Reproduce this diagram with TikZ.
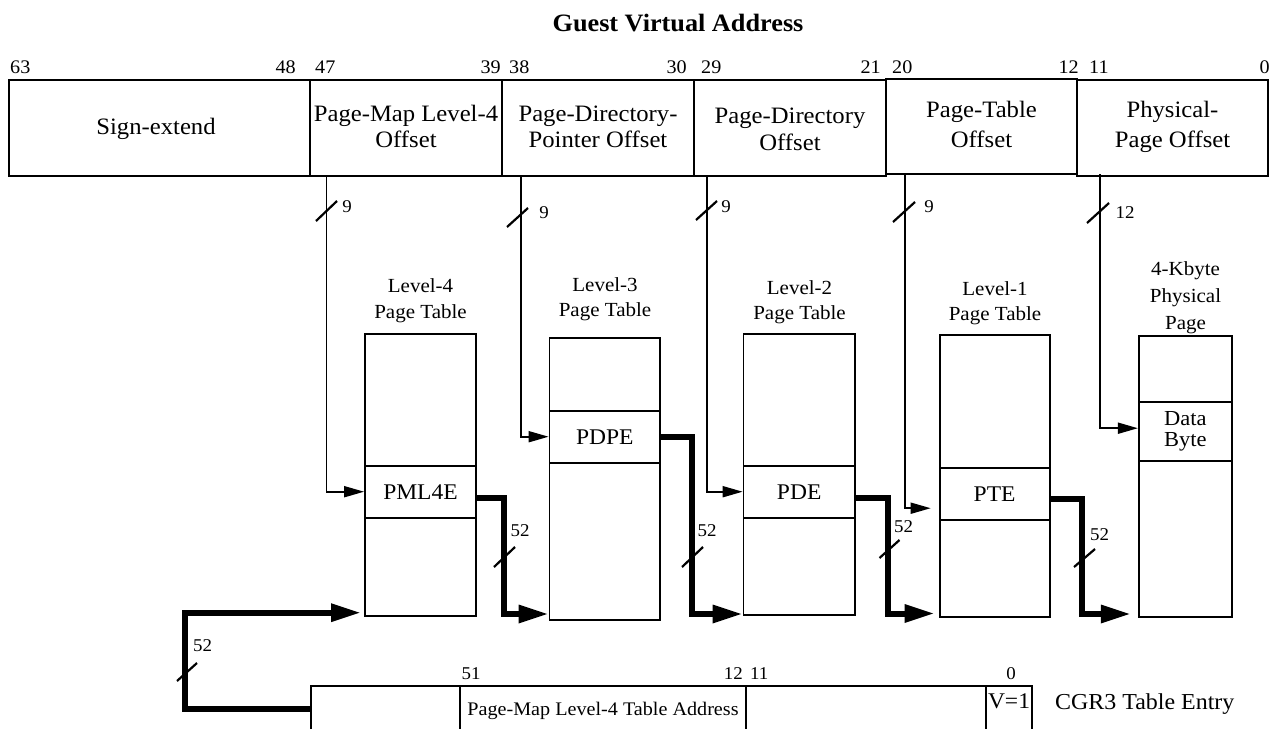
\documentclass[tikz,border=0pt]{standalone}
\usepackage{fontspec}
\setmainfont{Liberation Serif}[FakeStretch=1.05]
\usetikzlibrary{arrows.meta,calc}
\newcommand\fsTitle{\fontsize{25}{28}\selectfont\bfseries}
\newcommand\fsMain{\fontsize{23.5}{26}\selectfont}
\newcommand\fsBit{\fontsize{19.2}{22}\selectfont}
\newcommand\fsEnt{\fontsize{22.4}{21}\selectfont}
\newcommand\fsTtl{\fontsize{20}{25.5}\selectfont}
\newcommand\fsW{\fontsize{18}{20}\selectfont}
\newcommand\fsAddr{\fontsize{19.2}{22}\selectfont}
\begin{document}
\begin{tikzpicture}[x=1pt,y=-1pt,line join=miter,
  field/.style={draw,line width=1.8pt,inner sep=0pt},
  ftext/.style={font=\fsMain,align=center,inner sep=0pt,anchor=base},
  bitno/.style={font=\fsBit,inner sep=0pt},
  tbl/.style={draw,line width=1.8pt,inner sep=0pt},
  ent/.style={draw,line width=1.8pt,inner sep=0pt,font=\fsEnt,align=center},
  ttl/.style={font=\fsTtl,align=center,inner sep=0pt,anchor=base},
  idx/.style={line width=1.8pt,-{Triangle[length=20pt,width=11pt]}},
  ptr/.style={line width=6pt,-{Triangle[length=30pt,width=17pt]}},
  tick/.style={line width=2.2pt},
  wlab/.style={font=\fsW,inner sep=0pt}]
\useasboundingbox (0,0) rectangle (1271,729);

% title
\node[font=\fsTitle,inner sep=0pt,anchor=base] (title) at (678,31) {Guest Virtual Address};

% bit numbers
\node[bitno,anchor=base west] (b63) at (10,73) {63};
\node[bitno,anchor=base east] (b48) at (296,73) {48};
\node[bitno,anchor=base west] (b47) at (315,73) {47};
\node[bitno,anchor=base east] (b39) at (501,73) {39};
\node[bitno,anchor=base west] (b38) at (509,73) {38};
\node[bitno,anchor=base east] (b30) at (687,73) {30};
\node[bitno,anchor=base west] (b29) at (701,73) {29};
\node[bitno,anchor=base east] (b21) at (881,73) {21};
\node[bitno,anchor=base west] (b20) at (892,73) {20};
\node[bitno,anchor=base east] (b12) at (1079,73) {12};
\node[bitno,anchor=base west] (b11) at (1089,73) {11};
\node[bitno,anchor=base east] (b0) at (1270,73) {0};

% register fields
\node[field,minimum width=301pt,minimum height=96pt] (se) at (159.5,128) {};
\node[field,minimum width=192pt,minimum height=96pt] (pml4) at (406,128) {};
\node[field,minimum width=192pt,minimum height=96pt] (pdp) at (598,128) {};
\node[field,minimum width=192pt,minimum height=96pt] (pd) at (790,128) {};
\node[field,minimum width=191pt,minimum height=95pt] (pt) at (981.5,126.5) {};
\node[field,minimum width=191pt,minimum height=96pt] (ppo) at (1172.5,128) {};

\node[ftext] (tse) at (156,134) {Sign-extend};
\node[ftext,font=\fontsize{23.5}{26}\selectfont] (tpml4) at (406,147) {Page-Map Level-4\\Offset};
\node[ftext,font=\fontsize{23.5}{26}\selectfont] (tpdp) at (598,147) {Page-Directory-\\Pointer Offset};
\node[ftext,font=\fontsize{23.5}{27}\selectfont] (tpd) at (790,150) {Page-Directory\\Offset};
\node[ftext,font=\fontsize{23.5}{30}\selectfont] (tpt) at (981.5,147) {Page-Table\\Offset};
\node[ftext,font=\fontsize{23.5}{30}\selectfont] (tppo) at (1172.5,147) {Physical-\\Page Offset};

% tables
\node[ttl] (l4t) at (420.5,318) {Level-4\\Page Table};
\node[ttl] (l3t) at (605,316.5) {Level-3\\Page Table};
\node[ttl] (l2t) at (799.5,319.5) {Level-2\\Page Table};
\node[ttl] (l1t) at (995,320.5) {Level-1\\Page Table};
\node[ttl,font=\fontsize{20}{27}\selectfont] (ppt) at (1185.5,329) {4-Kbyte\\Physical\\Page};

\node[tbl,minimum width=111pt,minimum height=282pt] (t4) at (420.5,475) {};
\node[tbl,minimum width=110.5pt,minimum height=282pt] (t3) at (604.75,479) {};
\node[tbl,minimum width=111.3pt,minimum height=280.7pt] (t2) at (799.2,474.4) {};
\node[tbl,minimum width=110pt,minimum height=282pt] (t1) at (994.6,475.7) {};
\node[tbl,minimum width=92.9pt,minimum height=281.6pt] (tp) at (1185.25,476.5) {};

\node[ent,minimum width=111pt,minimum height=52pt] (pml4e) at (420.5,491.7) {PML4E};
\node[ent,minimum width=110.5pt,minimum height=52pt] (pdpe) at (604.75,436.7) {PDPE};
\node[ent,minimum width=111.3pt,minimum height=52pt] (pde) at (799.2,491.7) {PDE};
\node[ent,minimum width=110pt,minimum height=51.7pt] (pte) at (994.6,494.2) {PTE};
\node[ent,minimum width=92.9pt,minimum height=59pt,font=\fontsize{21.4}{21}\selectfont] (data) at (1185.25,431.2) {Data\\Byte};

% index connectors
\draw[idx] (326.5,0 |- pml4.south) |- (pml4e.west);
\draw[idx] (521,0 |- pdp.south) |- (pdpe.west);
\draw[idx] (707,0 |- pd.south) |- (pde.west);
\draw[idx] (905,0 |- pt.south) |- ($(pte.west)+(-8,14)$);
\draw[idx] (1100,174) |- ($(data.west)+(0,-3)$);

% 9/12 bit marks
\draw[tick] (316,221) -- (337,201);
\draw[tick] (507,227) -- (528,208);
\draw[tick] (696,220) -- (717,201);
\draw[tick] (893,222) -- (915,202);
\draw[tick] (1087,223) -- (1109,203);
\node[wlab] (w1) at (347,207) {9};
\node[wlab] (w2) at (544,213) {9};
\node[wlab] (w3) at (726,207) {9};
\node[wlab] (w4) at (929,207) {9};
\node[wlab] (w5) at (1125,213) {12};

% pointer connectors
\coordinate (k1) at (504,614);
\coordinate (k2) at (692,614);
\coordinate (k3) at (887.5,613.5);
\coordinate (k4) at (1082,614);
\coordinate (k5) at (185,612.7);
\coordinate (cgr) at (310.7,708.7);
\draw[ptr] ($(pml4e.east)+(0,6)$) -| (k1) -- (k1 -| t3.west);
\draw[ptr] (pdpe.east) -| (k2) -- (k2 -| t2.west);
\draw[ptr] ($(pde.east)+(0,6.5)$) -| (k3) -- ($(k3 -| t1.west)+(-4,0)$);
\draw[ptr] ($(pte.east)+(0,5)$) -| (k4) -- ($(k4 -| tp.west)+(-7,0)$);
\draw[ptr] (cgr) -| (k5) -- ($(k5 -| t4.west)+(-3,0)$);

\draw[tick] (494,567) -- (515,547);
\draw[tick] (682,567) -- (703,547);
\draw[tick] (879.5,558) -- (899.5,540);
\draw[tick] (1074,567) -- (1095,549);
\draw[tick] (177,681) -- (197,663);
\node[wlab] (p1) at (520,531) {52};
\node[wlab] (p2) at (707,531) {52};
\node[wlab] (p3) at (903.5,527) {52};
\node[wlab] (p4) at (1099.5,535) {52};
\node[wlab] (p5) at (202.5,646) {52};

% CGR3 entry
\draw[line width=1.8pt] (310.7,729) -- (310.7,686) -- (1032,686) -- (1032,729);
\draw[line width=1.8pt] (460,686) -- (460,729);
\draw[line width=1.8pt] (746,686) -- (746,729);
\draw[line width=1.8pt] (986,686) -- (986,729);
\node[bitno,anchor=base,font=\fontsize{18}{20}\selectfont] (c51) at (471,679) {51};
\node[bitno,anchor=base east,font=\fontsize{18}{20}\selectfont] (c12) at (743,679) {12};
\node[bitno,anchor=base west,font=\fontsize{18}{20}\selectfont] (c11) at (750,679) {11};
\node[bitno,anchor=base,font=\fontsize{18}{20}\selectfont] (c0) at (1011,679) {0};
\node[inner sep=0pt,anchor=base,font=\fsAddr] (addr) at (603,715) {Page-Map Level-4 Table Address};
\node[inner sep=0pt,anchor=base,font=\fontsize{22.4}{24}\selectfont] (vbit) at (1009,708) {V=1};
\node[inner sep=0pt,anchor=base west,font=\fontsize{22.8}{24}\selectfont] (cgrl) at (1055,709) {CGR3 Table Entry};
\end{tikzpicture}
\end{document}
